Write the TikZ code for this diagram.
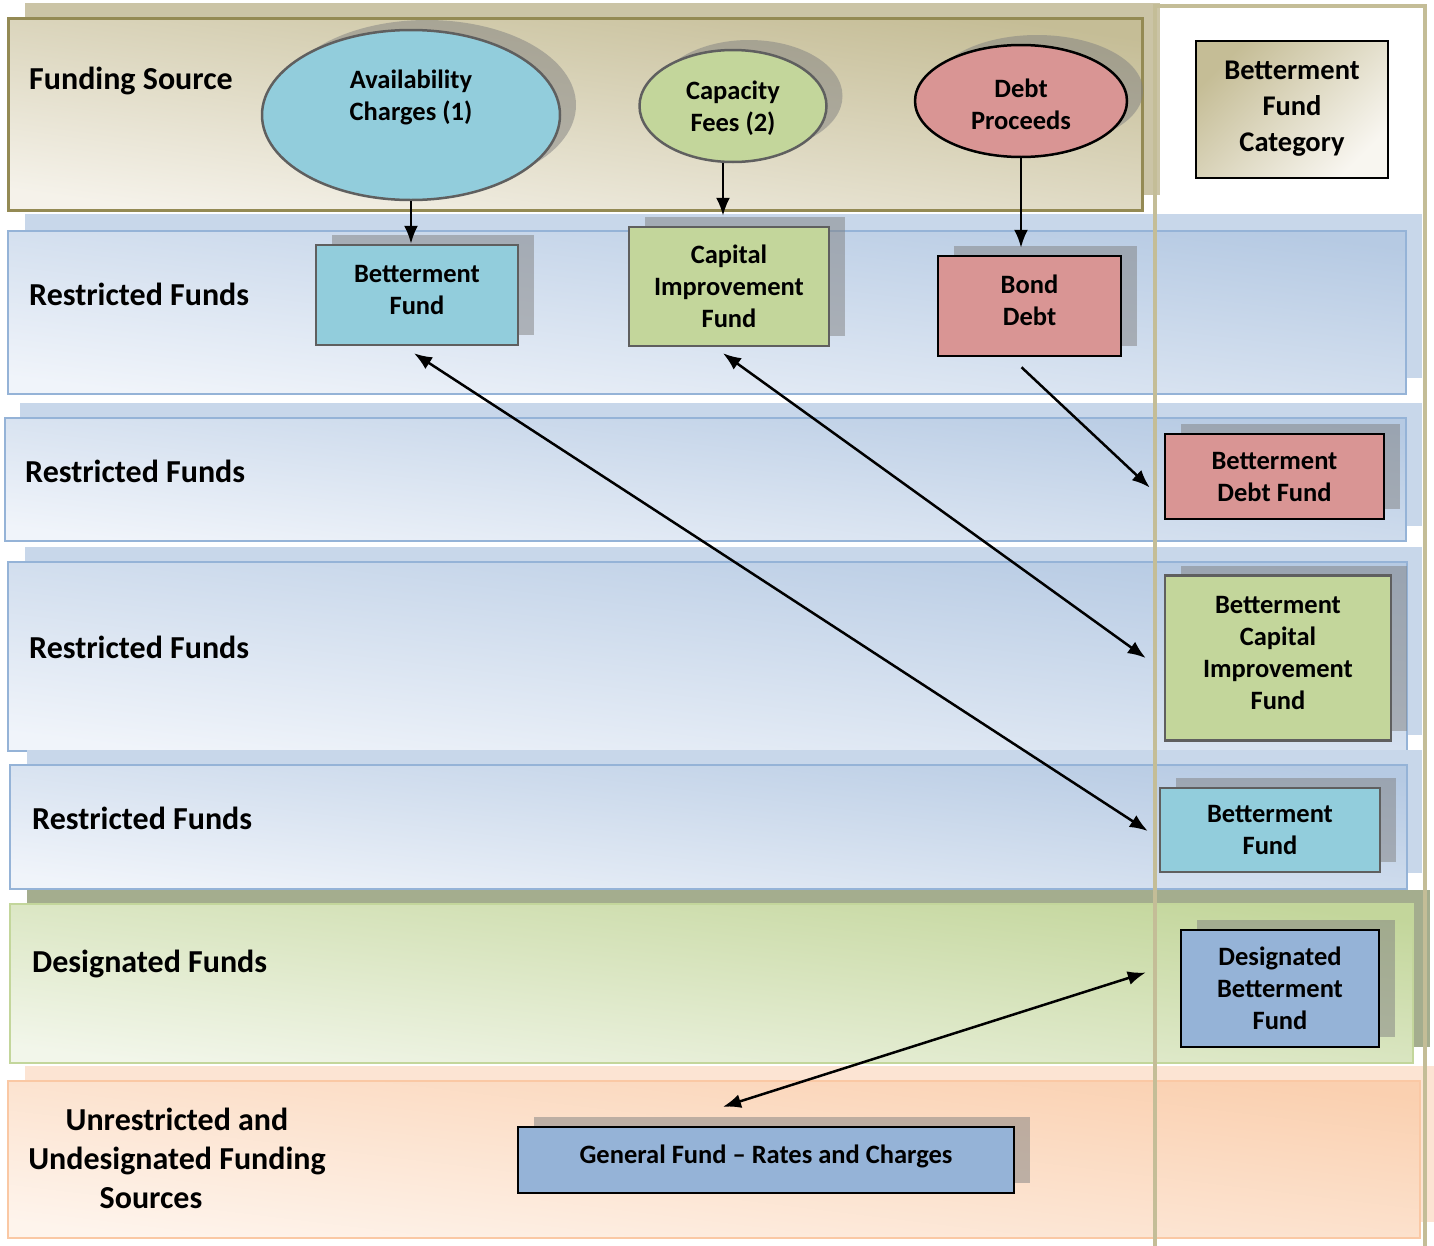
\documentclass[tikz,border=0pt]{standalone}
\usepackage{fontspec}
\setmainfont{Carlito}
\usetikzlibrary{shapes.geometric,shadows,arrows.meta,calc}
\definecolor{fundsh}{HTML}{CBC4A6}
\definecolor{funddk}{HTML}{C5BD96}
\definecolor{fundlt}{HTML}{F5F2EA}
\definecolor{fundbd}{HTML}{948A54}
\definecolor{restsh}{HTML}{C8D7EA}
\definecolor{restdk}{HTML}{B6CAE3}
\definecolor{restlt}{HTML}{F0F4FA}
\definecolor{restbd}{HTML}{95B3D7}
\definecolor{dessh}{HTML}{A4AD8E}
\definecolor{desdk}{HTML}{C3D69B}
\definecolor{deslt}{HTML}{F2F6EA}
\definecolor{unsh}{HTML}{FCE4D3}
\definecolor{undk}{HTML}{FAD0B0}
\definecolor{unlt}{HTML}{FEF4EC}
\definecolor{unbd}{HTML}{FAC8A4}
\definecolor{colbeige}{HTML}{C4BD97}
\definecolor{cblue}{HTML}{92CDDC}
\definecolor{cgreen}{HTML}{C3D69B}
\definecolor{cred}{HTML}{D99594}
\definecolor{cgen}{HTML}{95B3D7}
\definecolor{bgray}{HTML}{5F5F5F}
\tikzset{
  lbl/.style={font=\fontsize{32}{39}\selectfont\bfseries, anchor=west, inner sep=0pt},
  boxtxt/.style={font=\fontsize{26.5}{32}\selectfont\bfseries, align=center},
  shad/.style={drop shadow={shadow xshift=16pt, shadow yshift=10pt, fill=black!50, opacity=0.5}},
  fbox/.style={boxtxt, shad, rectangle, line width=2.5pt, inner sep=0pt},
  raised/.style={text depth=11pt},
  fell/.style={shad, ellipse, line width=2.5pt, inner sep=0pt},
  arr/.style={line width=2.5pt, -{Latex[length=18pt,width=14pt]}},
  darr/.style={line width=2.5pt, {Latex[length=18pt,width=14pt]}-{Latex[length=18pt,width=14pt]}},
}
\begin{document}
\begin{tikzpicture}[x=1pt,y=-1pt]
\useasboundingbox (0,0) rectangle (1434,1245);
\fill[white] (0,0) rectangle (1434,1245);

% bands
\fill[fundsh] (25,3) rectangle (1160,195);
\draw[fundbd, line width=3pt, top color=funddk, bottom color=fundlt, shading angle=-8] (8,18) rectangle (1142,210);

\fill[restsh] (25,214) rectangle (1422,378);
\draw[restbd, line width=2pt, top color=restdk, bottom color=restlt, shading angle=-7] (8,231) rectangle (1406,394);

\fill[restsh] (20,403) rectangle (1422,526);
\draw[restbd, line width=2pt, top color=restdk, bottom color=restlt, shading angle=-7] (5,418) rectangle (1406,541);

\fill[restsh] (25,547) rectangle (1422,735);
\draw[restbd, line width=2pt, top color=restdk, bottom color=restlt, shading angle=-7] (8,562) rectangle (1407,751);

\fill[restsh] (27,750) rectangle (1422,873);
\draw[restbd, line width=2pt, top color=restdk, bottom color=restlt, shading angle=-7] (10,765) rectangle (1407,889);

\fill[dessh] (27,890) rectangle (1430,1047);
\draw[desdk, line width=2pt, top color=desdk, bottom color=deslt, shading angle=-7] (10,904) rectangle (1413,1063);

\fill[unsh] (25,1066) rectangle (1436,1222);
\draw[unbd, line width=2pt, top color=undk, bottom color=unlt, shading angle=-7] (8,1081) rectangle (1420,1238);

% column
\draw[colbeige, line width=4pt] (1155,1250) -- (1155,6) -- (1425,6) -- (1425,1250);

% left labels
\node[lbl] (lfs) at (29,81) {Funding Source};
\node[lbl] (lr1) at (29,294) {Restricted Funds};
\node[lbl] (lr2) at (25,471) {Restricted Funds};
\node[lbl] (lr3) at (29,647) {Restricted Funds};
\node[lbl] (lr4) at (32,818) {Restricted Funds};
\node[lbl] (ldf) at (32,964) {Designated Funds};
\node[font=\fontsize{32}{39}\selectfont\bfseries, align=center, inner sep=0pt] (lun) at (177,1158) {Unrestricted and\\Undesignated Funding\\Sources\hspace*{52pt}};

% category box
\node[draw=black, line width=2.5pt, top color=funddk, bottom color=fundlt!70!white, shading angle=45,
      minimum width=192pt, minimum height=137pt, inner sep=0pt, align=center, text depth=6pt,
      font=\fontsize{28.5}{36}\selectfont\bfseries] (cat) at (1292,109.5) {Betterment\\Fund\\Category};

% funding source ellipses
\node[fell, fill=cblue, draw=bgray, minimum width=298pt, minimum height=170pt] (av) at (411,115) {};
\node[boxtxt] (avt) at (411,97) {Availability\\Charges (1)};
\node[fell, fill=cgreen, draw=bgray, minimum width=187pt, minimum height=112pt] (cf) at (733,106) {};
\node[boxtxt] (cft) at (733,108) {Capacity\\Fees (2)};
\node[fell, fill=cred, draw=black, minimum width=212pt, minimum height=112pt] (dp) at (1021,101) {};
\node[boxtxt] (dpt) at (1021,104) {Debt\\Proceeds};

% restricted boxes row 1
\node[fbox, raised, fill=cblue, draw=bgray, minimum width=202pt, minimum height=100pt] (bf) at (417,295) {Betterment\\Fund};
\node[fbox, fill=cgreen, draw=bgray, minimum width=200pt, minimum height=119pt] (cif) at (729,286.5) {Capital\\Improvement\\Fund};
\node[fbox, raised, fill=cred, draw=black, minimum width=183pt, minimum height=100pt] (bd) at (1029.5,306) {Bond\\Debt};

% right column boxes
\node[fbox, fill=cred, draw=black, minimum width=219pt, minimum height=85pt] (bdf) at (1274.5,476.5) {Betterment\\Debt Fund};
\node[fbox, raised, fill=cgreen, draw=bgray, minimum width=226pt, minimum height=165pt] (bcif) at (1278,658) {Betterment\\Capital\\Improvement\\Fund};
\node[fbox, fill=cblue, draw=bgray, minimum width=220pt, minimum height=84pt] (bf2) at (1270,830) {Betterment\\Fund};
\node[fbox, fill=cgen, draw=black, minimum width=198pt, minimum height=117pt] (dbf) at (1280,988.5) {Designated\\Betterment\\Fund};
\node[fbox, raised, fill=cgen, draw=black, minimum width=496pt, minimum height=66pt] (gf) at (766,1160) {General Fund -- Rates and Charges};

% arrows
\draw[arr] (av.south) -- (av.south |- bf.north);
\draw[arr] ($(cf.south)+(-10,0)$) -- ($(cf.south |- cif.north)+(-10,-10)$);
\draw[arr] (dp.south) -- ($(dp.south |- bd.north)+(0,-7)$);
\draw[arr] ($(bd.south)+(-8,10)$) -- ($(bdf.west)+(-14,11)$);
\draw[darr] ($(bf.south)+(-3,7)$) -- ($(bf2.west)+(-11,1)$);
\draw[darr] ($(cif.south)+(-6,6)$) -- ($(bcif.west)+(-18,0)$);
\draw[darr] ($(gf.north)+(-43,-19)$) -- ($(dbf.west)+(-34,-16)$);
\end{tikzpicture}
\end{document}
